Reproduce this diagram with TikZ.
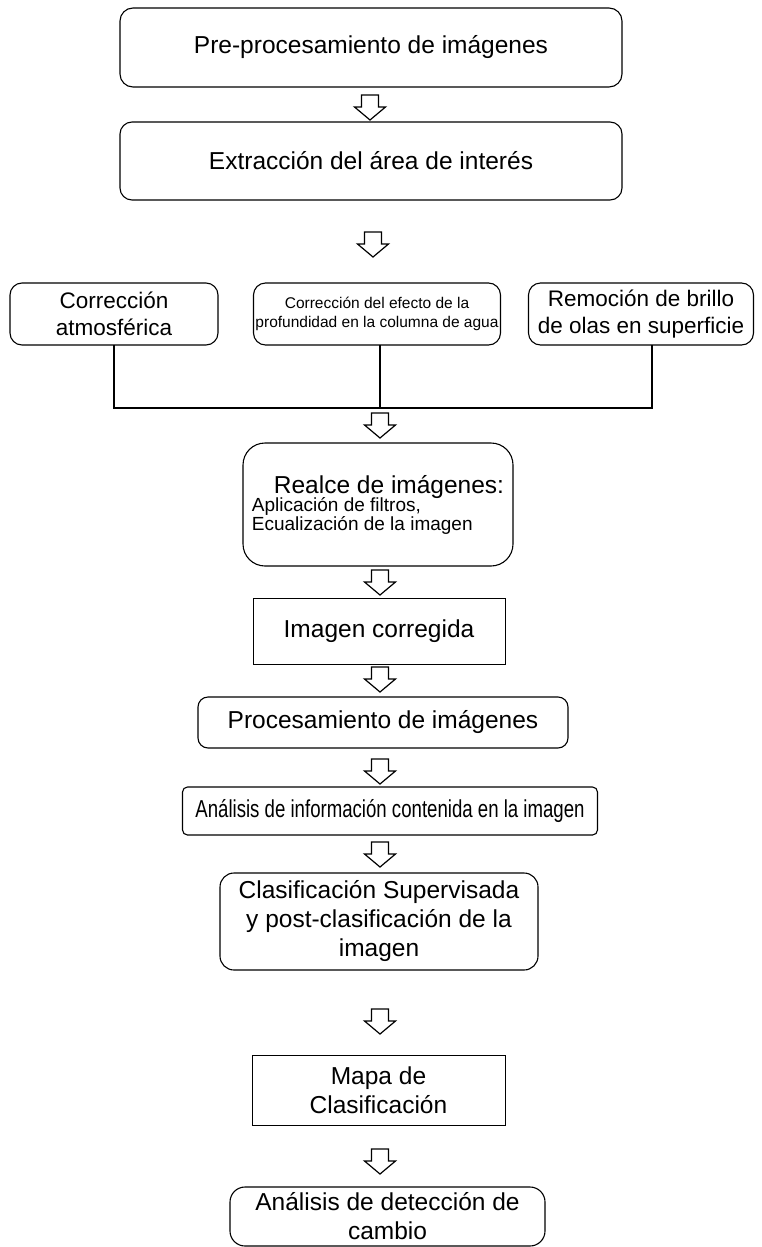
\documentclass[tikz,border=0pt]{standalone}
\usepackage{fontspec}
\setmainfont{Liberation Sans}
\newfontfamily\narrowsans[FakeStretch=0.76]{Liberation Sans}
\begin{document}
\begin{tikzpicture}[x=1pt,y=-1pt,
  box/.style={draw, line width=1.1pt, rounded corners=#1, inner sep=0pt, align=center, text=black},
  box/.default=12pt,
  sqbox/.style={draw, line width=1pt, inner sep=0pt, align=center, text=black},
  big/.style={font=\fontsize{24.5}{29}\selectfont},
  mid/.style={font=\fontsize{22.5}{27}\selectfont},
  small/.style={font=\fontsize{15.5}{19}\selectfont},
  joinline/.style={line width=2pt, line cap=rect},
  blockarr/.pic={\draw[line width=1.2pt, line join=miter]
     (-8.5,-12) -- (8.5,-12) -- (8.5,0) -- (15.5,0) -- (0,13) -- (-15.5,0) -- (-8.5,0) -- cycle;}
]
\useasboundingbox (0,0) rectangle (761,1247);

\node[box=13pt, big, minimum width=502pt, minimum height=79pt] (b1) at (371,47.5) {Pre-procesamiento de imágenes};
\pic (a1) at (370,107) {blockarr};
\node[box=12pt, big, minimum width=502pt, minimum height=78pt] (b2) at (371,161) {Extracción del área de interés};
\pic (a2) at (373,244) {blockarr};

\node[box=12pt, mid, minimum width=208pt, minimum height=62pt] (c1) at (114,314) {Corrección\\atmosférica};
\node[box=12pt, small, minimum width=247pt, minimum height=62pt] (c2) at (377,314) {Corrección del efecto de la\\profundidad en la columna de agua};
\node[box=12pt, mid, minimum width=225pt, minimum height=62pt] (c3) at (641,314) {Remoción de brillo\\de olas en superficie};

\coordinate (jn) at (380,408);
\draw[joinline] (c1.south) |- (jn) -| ([xshift=11pt]c3.south);
\draw[joinline] ([xshift=3pt]c2.south) -- ([xshift=3pt]c2.south |- jn);
\pic (a3) at (380,425) {blockarr};

\node[box=22pt, minimum width=270pt, minimum height=123pt, align=left] (d) at (378,504.5)
  {\hspace*{22pt}{\fontsize{24.5}{26}\selectfont Realce de imágenes:}\\[-2pt]
   {\fontsize{19}{20}\selectfont Aplicación de filtros,}\\
   {\fontsize{19}{20}\selectfont Ecualización de la imagen}};
\pic (a4) at (380,582) {blockarr};

\node[sqbox, big, minimum width=252pt, minimum height=66pt] (e) at (379,631) {Imagen corregida};
\pic (a5) at (380,679) {blockarr};

\node[box=10pt, big, minimum width=370pt, minimum height=51pt] (f) at (383,722.5) {Procesamiento de imágenes};
\pic (a6) at (380,771) {blockarr};

\node[box=5pt, minimum width=415pt, minimum height=48pt, font=\narrowsans\fontsize{24.5}{29}\selectfont] (g) at (390,811) {Análisis de información contenida en la imagen};
\pic (a7) at (380,854) {blockarr};

\node[box=14pt, big, minimum width=318pt, minimum height=97pt] (h) at (379,921.5) {Clasificación Supervisada\\y post-clasificación de la\\imagen};
\pic (a8) at (380,1021) {blockarr};

\node[sqbox, big, minimum width=253pt, minimum height=70pt] (i) at (378.5,1090) {Mapa de\\Clasificación};
\pic (a9) at (380,1161) {blockarr};

\node[box=15pt, big, minimum width=315pt, minimum height=59pt] (j) at (387.5,1216.5) {Análisis de detección de\\cambio};
\end{tikzpicture}
\end{document}
